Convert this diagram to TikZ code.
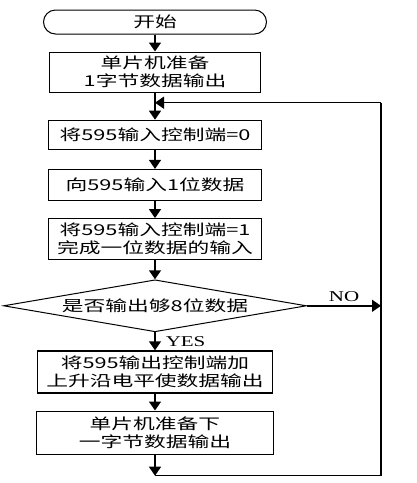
\documentclass[tikz,border=0pt]{standalone}
\usepackage{fontspec}
\newfontfamily\cjk{Noto Sans CJK SC}[FakeStretch=1.45]
\newfontfamily\lat{Liberation Serif}[FakeStretch=1.4]
\usetikzlibrary{arrows.meta, positioning, shapes.geometric}

\begin{document}
\begin{tikzpicture}[
  node distance=17pt,
  every node/.style={font=\cjk\fontsize{15}{18}\selectfont, align=center, inner sep=0pt},
  box/.style={draw, line width=1.2pt},
  label/.style={font=\lat\fontsize{15}{18}\selectfont},
  >={Triangle[length=9pt, width=12pt]},
  line width=1.5pt
]
\useasboundingbox (0,0) rectangle (417pt,-483pt);
% Nodes
\node[draw, rounded corners=12pt, line width=1pt, minimum width=223pt, minimum height=24pt] (start) at (155pt,-22pt) {开始};
\node[box, minimum width=211pt, minimum height=40pt, below=of start] (prep) {单片机准备\\1字节数据输出};
\node[box, minimum width=213pt, minimum height=29pt, below=27pt of prep] (clear) {将595输入控制端=0};
\node[box, minimum width=213pt, minimum height=31pt, below=19pt of clear] (bit) {向595输入1位数据};
\node[box, minimum width=213pt, minimum height=41pt, below=of bit] (set) {将595输入控制端=1\\完成一位数据的输入};
% Decision
\node[draw, diamond, aspect=6, line width=1pt, minimum width=303pt, minimum height=52pt, below=19pt of set] (check) {是否输出够8位数据};
\node[box, minimum width=235pt, minimum height=42pt, below=18pt of check] (shift) {将595输出控制端加\\上升沿电平使数据输出};
\node[box, minimum width=237pt, minimum height=43pt, below=of shift] (next) {单片机准备下\\一字节数据输出};

% Loop points
\coordinate[below=10pt of prep] (join);
\coordinate[below=21pt of next] (bottom);
\coordinate (rtop) at ([xshift=226pt]join);
\coordinate (rbot) at (rtop |- bottom);

% Edges
\draw[->] (start) -- (prep);
\draw[->] (prep) -- (clear);
\draw[->] (clear) -- (bit);
\draw[->] (bit) -- (set);
\draw[->] (set) -- (check);
\draw[->] (check) -- node[right=10pt, label]{YES} (shift);
\draw[->] (shift) -- (next);
\draw[->] (check) -- node[above=3pt, label]{NO} (check -| rtop);

% Back to next bit
\draw[->] (next) -- (bottom);
\draw (bottom) -- (rbot) -- (rtop);
\draw[->] (rtop) -- (join);
\end{tikzpicture}
\end{document}
